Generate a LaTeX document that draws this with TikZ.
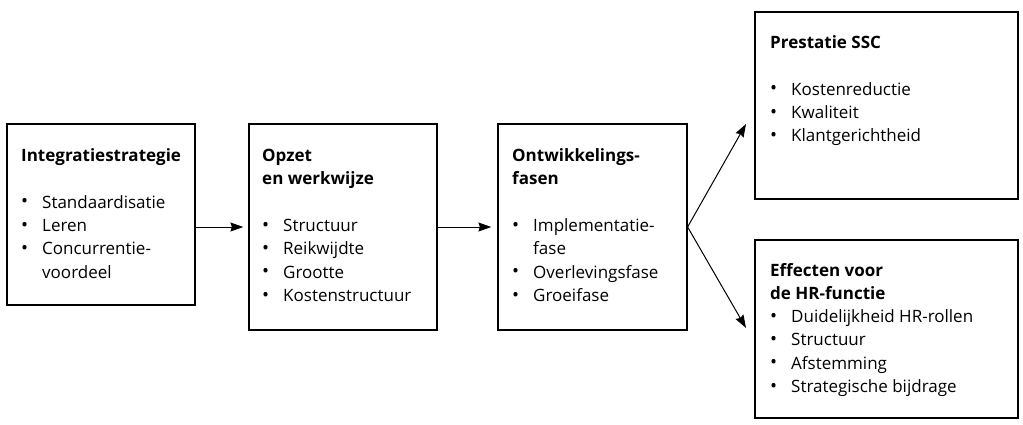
\documentclass[tikz,border=0pt]{standalone}
\usepackage{fontspec}
\setmainfont{Open Sans}
\usetikzlibrary{arrows.meta}
\newcommand{\bl}[1]{\makebox[21pt][l]{\raisebox{0.5pt}{\scalebox{1.1}{•}}}#1\\}
\newcommand{\cl}[1]{\hspace*{21pt}#1\\}
\begin{document}
\begin{tikzpicture}[x=1pt,y=-1pt,
  box/.style={draw,line width=1.2pt,rectangle,inner sep=0pt},
  txt/.style={anchor=base west,inner sep=0pt,font=\fontsize{17}{23.3}\selectfont},
  arr/.style={line width=1pt,-{Stealth[length=13pt,width=9pt,inset=1.5pt]}}]
\useasboundingbox (0,0) rectangle (1023,424);
\node[box,minimum width=188pt,minimum height=181pt] (b1) at (101,214.5) {};
\node[box,minimum width=188pt,minimum height=206pt] (b2) at (343,227) {};
\node[box,minimum width=189pt,minimum height=206pt] (b3) at (592.5,227) {};
\node[box,minimum width=263pt,minimum height=187pt] (b4) at (886.5,105.5) {};
\node[box,minimum width=263pt,minimum height=178pt] (b5) at (886.5,329) {};
\node[txt] (t1) at (21,161) {\parbox[t]{180pt}{\textbf{Integratiestrategie}\\[24pt]
\bl{Standaardisatie}\bl{Leren}\bl{Concurrentie-}\cl{voordeel}}};
\node[txt] (t2) at (262,161) {\parbox[t]{180pt}{\textbf{Opzet}\\\textbf{en werkwijze}\\[24pt]
\bl{Structuur}\bl{Reikwijdte}\bl{Grootte}\bl{Kostenstructuur}}};
\node[txt] (t3) at (512,161) {\parbox[t]{180pt}{\textbf{Ontwikkelings-}\\\textbf{fasen}\\[24pt]
\bl{Implementatie-}\cl{fase}\bl{Overlevingsfase}\bl{Groeifase}}};
\node[txt] (t4) at (770,48) {\parbox[t]{240pt}{\textbf{Prestatie SSC}\\[24pt]
\bl{Kostenreductie}\bl{Kwaliteit}\bl{Klantgerichtheid}}};
\node[txt] (t5) at (770,276) {\parbox[t]{240pt}{\textbf{Effecten voor}\\\textbf{de HR-functie}\\
\bl{Duidelijkheid HR-rollen}\bl{Structuur}\bl{Afstemming}\bl{Strategische bijdrage}}};
\coordinate (e4) at (746,124);
\coordinate (e5) at (746,328);
\draw[arr,shorten >=5pt] (b1.east |- b2.west) -- (b2.west);
\draw[arr,shorten >=6pt] (b2.east) -- (b3.west);
\draw[arr] (b3.east) -- (e4);
\draw[arr] (b3.east) -- (e5);
\end{tikzpicture}
\end{document}
